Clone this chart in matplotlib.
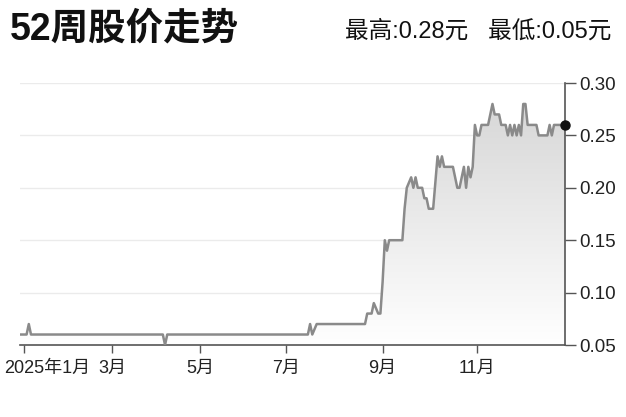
import numpy as np
import matplotlib.pyplot as plt
import matplotlib.transforms as mtransforms
from matplotlib.colors import LinearSegmentedColormap

# trading-day index (x) and closing price (HKD) at the turning points of the line
day_idx = [0, 3, 4, 5, 65, 66, 67, 131, 132, 133, 135, 157, 158, 160, 161, 163,
           164, 165, 166, 167, 168, 174, 175, 176, 178, 179, 180, 181, 183, 184,
           185, 186, 188, 190, 191, 192, 193, 197, 198, 199, 200, 201, 202, 203,
           204, 205, 206, 207, 208, 209, 210, 213, 215, 216, 218, 219, 221, 222,
           223, 224, 225, 226, 227, 228, 229, 230, 231, 235, 236, 239, 240, 241,
           242, 243, 248]
price = [0.06, 0.06, 0.07, 0.06, 0.06, 0.05, 0.06, 0.06, 0.07, 0.06, 0.07, 0.07,
         0.08, 0.08, 0.09, 0.08, 0.08, 0.11, 0.15, 0.14, 0.15, 0.15, 0.18, 0.20,
         0.21, 0.20, 0.21, 0.20, 0.20, 0.19, 0.19, 0.18, 0.18, 0.23, 0.22, 0.23,
         0.22, 0.22, 0.21, 0.20, 0.20, 0.21, 0.22, 0.20, 0.22, 0.21, 0.22, 0.26,
         0.25, 0.25, 0.26, 0.26, 0.28, 0.27, 0.27, 0.26, 0.26, 0.25, 0.26, 0.25,
         0.26, 0.25, 0.26, 0.25, 0.28, 0.28, 0.26, 0.26, 0.25, 0.25, 0.25, 0.26,
         0.25, 0.26, 0.26]

month_pos = [2, 42, 82, 121, 165, 208]
month_labels = ["2025年1月", "3月", "5月", "7月", "9月", "11月"]
y_ticks = [0.05, 0.10, 0.15, 0.20, 0.25, 0.30]

title = "52周股价走势"
high_low = "最高:0.28元   最低:0.05元"

num_font = ["Liberation Sans", "Noto Sans CJK SC"]

fig = plt.figure(figsize=(6.26, 4.17), dpi=100)
ax = fig.add_axes([20 / 626, 72 / 417, 545 / 626, 262 / 417])

x = np.array(day_idx)
y = np.array(price)
ax.set_xlim(0, 248)
ax.set_ylim(0.05, 0.30)

# gradient fill under the line
poly = ax.fill_between(x, y, 0.05, color="none", lw=0)
cmap = LinearSegmentedColormap.from_list("g", ["#ffffff", "#d4d4d4"])
grad = np.linspace(0, 1, 256).reshape(-1, 1)
img = ax.imshow(grad, extent=[0, 248, 0.05, 0.30], origin="lower",
                aspect="auto", cmap=cmap, zorder=1)
img.set_clip_path(poly.get_paths()[0], transform=ax.transData)

ax.plot(x, y, color="#8a8a8a", lw=1.8, zorder=3, solid_joinstyle="round")
ax.plot(x[-1], y[-1], "o", color="#111111", ms=6.5, zorder=4, clip_on=False)

for v in y_ticks[1:]:
    ax.axhline(v, color="#ebebeb", lw=1.0, zorder=0)

for s in ["top", "left"]:
    ax.spines[s].set_visible(False)
for s in ["bottom", "right"]:
    ax.spines[s].set_color("#555555")
    ax.spines[s].set_linewidth(1.2)

ax.yaxis.tick_right()
ax.set_yticks(y_ticks)
ax.set_yticklabels([f"{v:.2f}" for v in y_ticks], family=num_font,
                   fontsize=13.5, color="#222222")
ax.tick_params(axis="y", length=8, width=1, color="#555555", pad=2)

ax.set_xticks(month_pos)
ax.set_xticklabels(month_labels, family=num_font, fontsize=13, color="#222222")
ax.tick_params(axis="x", length=6, width=1, color="#555555", pad=5)
first = ax.get_xticklabels()[0]
first.set_horizontalalignment("left")
first.set_transform(first.get_transform() +
                    mtransforms.ScaledTranslation(-20 / 100, 0, fig.dpi_scale_trans))

fig.text(10 / 626, 1 - 30 / 417, title, fontsize=27, fontweight="bold",
         family=["Liberation Sans", "Noto Sans CJK SC"], va="center", ha="left",
         color="#111111")
fig.text(611 / 626, 1 - 31 / 417, high_low, fontsize=17, family=num_font,
         va="center", ha="right", color="#111111")

fig.savefig("out.png", dpi=100, facecolor="white")
